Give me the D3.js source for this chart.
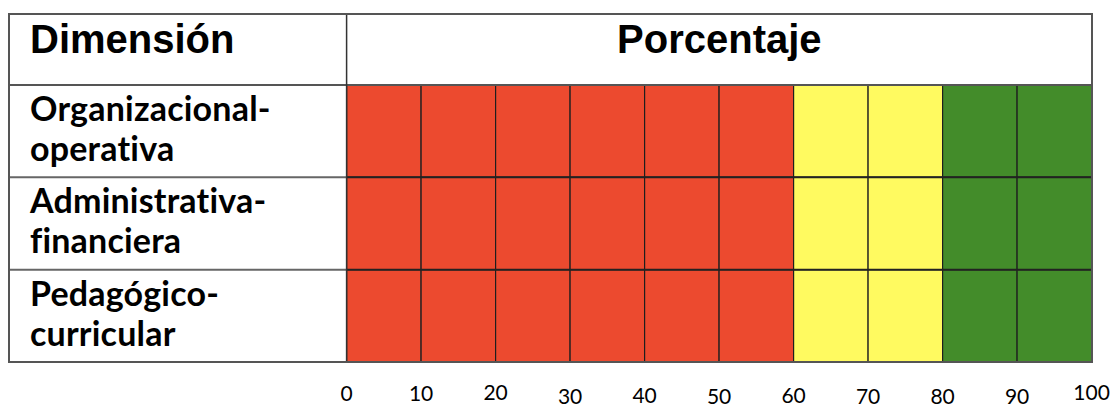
<!DOCTYPE html>
<html>
<head>
<meta charset="utf-8">
<script src="https://cdn.jsdelivr.net/npm/d3@7/dist/d3.min.js"></script>
<style>
  html, body { margin: 0; padding: 0; background: #fff; }
  svg { display: block; }
</style>
</head>
<body>
<svg id="chart" width="1119" height="407"></svg>
<script>
// Dimensions evaluated (each label wraps after its hyphen)
const dimensiones = [
  ["Organizacional-", "operativa"],
  ["Administrativa-", "financiera"],
  ["Pedagógico-", "curricular"]
];
// Percentage bands of 10 points and the level each band belongs to
const tramos = [0, 10, 20, 30, 40, 50, 60, 70, 80, 90];
const niveles = ["bajo", "bajo", "bajo", "bajo", "bajo", "bajo", "medio", "medio", "alto", "alto"];
// Axis tick labels
const marcas = [0, 10, 20, 30, 40, 50, 60, 70, 80, 90, 100];
// Headers
const encabezados = ["Dimensión", "Porcentaje"];

// Styling
const colorNivel = { bajo: "#EC4A2F", medio: "#FFFA60", alto: "#438C2A" };
const caidaEtiqueta = [0, 0, -1, 3, 2, 3, 2, 3, 3, 3, -1]; // slight vertical jitter of tick labels

const svg = d3.select("#chart");
const bordeIzq = 9, bordeSup = 14, finEncabezado = 85, bordeInf = 362, bordeDer = 1092;
const divisor = 346.6;

const x = d3.scaleLinear().domain([0, 100]).range([divisor, 1091.6]);
const y = d3.scaleBand().domain(d3.range(dimensiones.length)).range([finEncabezado, bordeInf]);

// Table background
svg.append("rect").attr("x", bordeIzq).attr("y", bordeSup)
  .attr("width", bordeDer - bordeIzq).attr("height", bordeInf - bordeSup)
  .attr("fill", "#fff");

// Colored cells
const celdas = [];
dimensiones.forEach((d, i) => tramos.forEach((t, j) => celdas.push({ fila: i, desde: t, nivel: niveles[j] })));
svg.append("g").selectAll("rect").data(celdas).join("rect")
  .attr("x", d => x(d.desde))
  .attr("y", d => y(d.fila))
  .attr("width", d => x(d.desde + 10) - x(d.desde))
  .attr("height", y.bandwidth())
  .attr("fill", d => colorNivel[d.nivel])
  .attr("stroke", "#1e1e1e")
  .attr("stroke-width", 1.2);

// Row separators
const sep = svg.append("g");
d3.range(1, dimensiones.length).forEach(i => {
  sep.append("line").attr("x1", bordeIzq).attr("x2", divisor).attr("y1", y(i)).attr("y2", y(i))
    .attr("stroke", "#666").attr("stroke-width", 2);
  sep.append("line").attr("x1", divisor).attr("x2", x(100)).attr("y1", y(i)).attr("y2", y(i))
    .attr("stroke", "#222").attr("stroke-width", 2);
});
// Header separator and column divider
sep.append("line").attr("x1", bordeIzq).attr("x2", bordeDer).attr("y1", finEncabezado).attr("y2", finEncabezado)
  .attr("stroke", "#555").attr("stroke-width", 2);
sep.append("line").attr("x1", divisor).attr("x2", divisor).attr("y1", bordeSup).attr("y2", bordeInf)
  .attr("stroke", "#333").attr("stroke-width", 1.5);
// Outer border
svg.append("rect").attr("x", bordeIzq).attr("y", bordeSup)
  .attr("width", bordeDer - bordeIzq).attr("height", bordeInf - bordeSup)
  .attr("fill", "none").attr("stroke", "#555").attr("stroke-width", 2);

// Headers
svg.append("text").attr("x", 30).attr("y", 53)
  .attr("font-family", "'Liberation Sans', Arial, sans-serif").attr("font-weight", "bold")
  .attr("font-size", 40).attr("fill", "#000").text(encabezados[0]);
svg.append("text").attr("x", (divisor + bordeDer) / 2).attr("y", 53).attr("text-anchor", "middle")
  .attr("font-family", "'Liberation Sans', Arial, sans-serif").attr("font-weight", "bold")
  .attr("font-size", 40).attr("fill", "#000").text(encabezados[1]);

// Row labels
const etiquetas = svg.append("g")
  .attr("font-family", "Lato, 'Open Sans', sans-serif").attr("font-weight", "bold")
  .attr("font-size", 34).attr("letter-spacing", 0.2).attr("fill", "#000");
dimensiones.forEach((lineas, i) => {
  const t = etiquetas.append("text").attr("x", 30).attr("y", y(i) + 36);
  lineas.forEach((l, k) => t.append("tspan").attr("x", 30).attr("dy", k === 0 ? 0 : 40).text(l));
});

// Tick labels under the bar
svg.append("g")
  .attr("font-family", "Lato, 'Open Sans', sans-serif").attr("font-size", 21).attr("fill", "#000")
  .selectAll("text").data(marcas).join("text")
  .attr("x", d => x(d))
  .attr("y", (d, i) => 401 + caidaEtiqueta[i])
  .attr("text-anchor", "middle")
  .text(d => d);
</script>
</body>
</html>
